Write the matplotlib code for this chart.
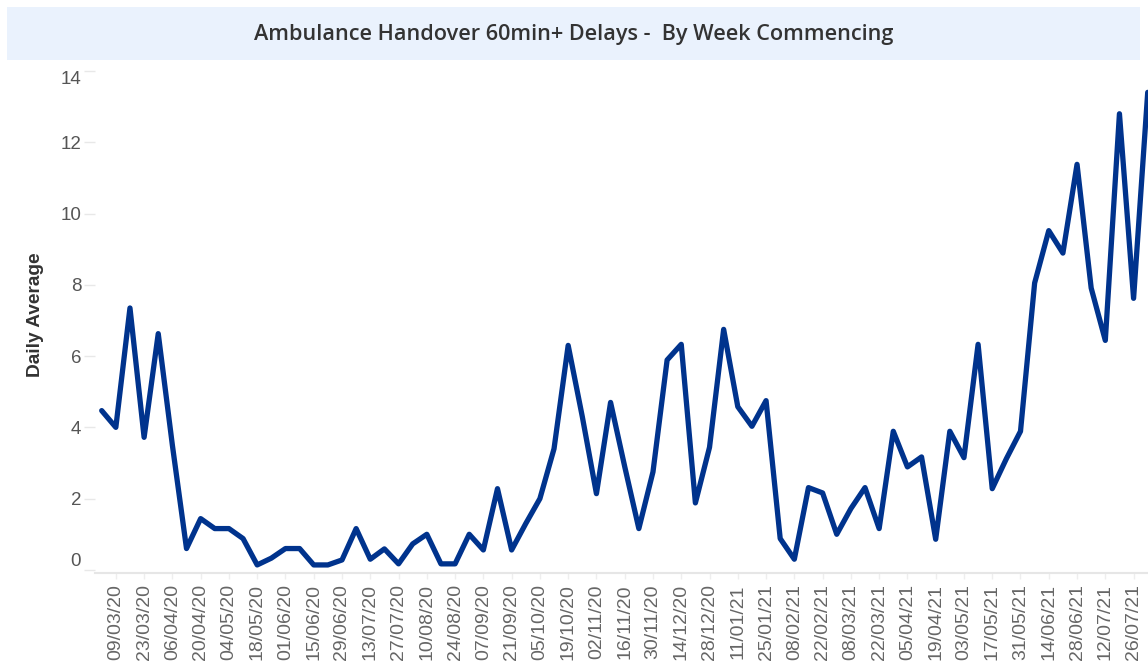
import pandas as pd
import matplotlib.pyplot as plt
import matplotlib.patches as mpatches

# weekly daily-average values, week commencing 02/03/20 onwards
values = [4.47, 4.0, 7.35, 3.72, 6.63, 3.5, 0.6, 1.44, 1.16, 1.16,
          0.88, 0.14, 0.33, 0.6, 0.6, 0.14, 0.14, 0.28, 1.16, 0.3,
          0.59, 0.17, 0.73, 1.0, 0.17, 0.17, 1.0, 0.56, 2.28, 0.56,
          1.3, 2.0, 3.4, 6.3, 4.3, 2.14, 4.7, 2.9, 1.16, 2.75,
          5.89, 6.33, 1.88, 3.44, 6.75, 4.58, 4.03, 4.75, 0.88, 0.3,
          2.31, 2.16, 1.0, 1.72, 2.31, 1.16, 3.89, 2.89, 3.17, 0.86,
          3.89, 3.15, 6.33, 2.28, 3.12, 3.89, 8.05, 9.52, 8.89, 11.38,
          7.91, 6.44, 12.8, 7.62, 13.4]
start_week = '2020-03-02'

tick_labels = ['09/03/20', '23/03/20', '06/04/20', '20/04/20', '04/05/20', '18/05/20',
               '01/06/20', '15/06/20', '29/06/20', '13/07/20', '27/07/20', '10/08/20',
               '24/08/20', '07/09/20', '21/09/20', '05/10/20', '19/10/20', '02/11/20',
               '16/11/20', '30/11/20', '14/12/20', '28/12/20', '11/01/21', '25/01/21',
               '08/02/21', '22/02/21', '08/03/21', '22/03/21', '05/04/21', '19/04/21',
               '03/05/21', '17/05/21', '31/05/21', '14/06/21', '28/06/21', '12/07/21',
               '26/07/21']
y_ticks = [0, 2, 4, 6, 8, 10, 12, 14]

weeks = pd.date_range(start_week, periods=len(values), freq='7D')
tick_dates = pd.to_datetime(tick_labels, format='%d/%m/%y')

fig = plt.figure(figsize=(11.48, 6.67), dpi=100)

# title band
fig.patches.append(mpatches.Rectangle((0.0061, 0.910), 0.987, 0.0795, transform=fig.transFigure,
                                      facecolor='#eaf2fd', edgecolor='none', zorder=0))
fig.text(0.5, 0.949, 'Ambulance Handover 60min+ Delays -  By Week Commencing',
         ha='center', va='center', fontsize=15.6, color='#333333',
         family='Open Sans', fontweight='semibold')

ax = fig.add_axes([0.0828, 0.141, 0.9172, 0.7526])
ax.plot(weeks, values, color='#00338d', linewidth=3.8, solid_joinstyle='round',
        solid_capstyle='round', clip_on=True)

week = pd.Timedelta(days=7)
ax.set_xlim(weeks[0] - 0.47 * week, weeks[0] + 74.02 * week)
ax.set_ylim(-0.085, 14)

ax.set_yticks(y_ticks)
ylabels = ax.set_yticklabels([str(v) for v in y_ticks], family='Liberation Sans',
                             fontsize=13.5, color='#555555', va='top')
# keep the end labels inside the axis range, the rest sit just under their tick
for lab in ylabels[1:-1]:
    lab.set_va('center_baseline')
ylabels[0].set_va('bottom')
ylabels[-1].set_va('top')

ax.set_xticks(tick_dates)
ax.set_xticklabels(tick_labels, rotation=90, family='Liberation Sans', fontsize=14,
                   color='#666666', va='top')

ax.tick_params(axis='y', length=8, width=1, color='#e8e8e8', pad=2)
ax.tick_params(axis='x', length=4, width=1, color='#eeeeee', pad=4)
for s in ['top', 'right', 'left']:
    ax.spines[s].set_visible(False)
ax.spines['bottom'].set_color('#e6e6e6')
ax.spines['bottom'].set_linewidth(1.5)

fig.text(0.0305, 0.528, 'Daily Average', rotation=90, ha='center', va='center',
         fontsize=13.8, fontweight='bold', color='#333333', family='Liberation Sans')

fig.savefig('out.png', dpi=100)
